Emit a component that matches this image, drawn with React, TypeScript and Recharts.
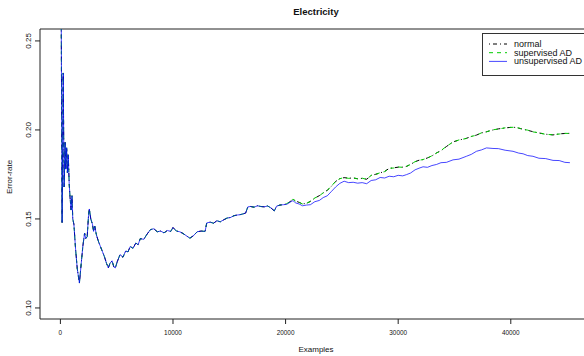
import React from 'react';
import { LineChart, Line, XAxis, YAxis, ReferenceArea, Legend } from 'recharts';

// examples seen so far, shared part where all three runs coincide
const earlyExamples = [
  30, 150, 250, 330, 420, 480, 560, 620, 700, 780,
  860, 950, 1030, 1100, 1200, 1350, 1500, 1690, 1850, 2000,
  2150, 2250, 2380, 2500, 2570, 2700, 2850, 2950, 3050, 3200,
  3400, 3650, 3900, 4100, 4260, 4400, 4590, 4750, 4880, 5050,
  5300, 5550, 5800, 6000, 6200, 6450, 6700, 6900, 7100, 7400,
  7700, 8000, 8300, 8600, 8900, 9200, 9500, 9800, 10000, 10300,
  10600, 10900, 11200, 11500, 11800, 12150, 12500, 12850, 13000, 13300,
  13600, 13900, 14200, 14500, 14800, 15100, 15400, 15700, 15950, 16200,
  16450, 16650, 16900, 17200, 17500, 17800, 18100, 18400, 18700, 19000,
  19200, 19500, 19800,
];
const earlyRate = [
  0.33, 0.148, 0.232, 0.168, 0.193, 0.178, 0.19, 0.176, 0.186, 0.17,
  0.162, 0.155, 0.163, 0.15, 0.147, 0.133, 0.122, 0.114, 0.125, 0.135,
  0.142, 0.139, 0.14, 0.152, 0.1556, 0.15, 0.147, 0.143, 0.146, 0.141,
  0.137, 0.133, 0.129, 0.125, 0.1225, 0.125, 0.1265, 0.123, 0.1225, 0.126,
  0.13, 0.1285, 0.132, 0.1315, 0.1345, 0.1335, 0.1365, 0.1355, 0.139, 0.1385,
  0.1415, 0.144, 0.1445, 0.1428, 0.1432, 0.1422, 0.1435, 0.143, 0.1452, 0.1432,
  0.1428, 0.1418, 0.1405, 0.1392, 0.1405, 0.1428, 0.1432, 0.143, 0.1478, 0.1482,
  0.1476, 0.149, 0.1484, 0.1495, 0.1505, 0.1508, 0.1518, 0.1522, 0.1524, 0.1528,
  0.1533, 0.1568, 0.157, 0.1566, 0.1574, 0.157, 0.1568, 0.1573, 0.1562, 0.1545,
  0.1572, 0.1578, 0.158,
];

// after ~20000 the runs drift apart
const lateExamples = [
  20100, 20400, 20650, 20900, 21200, 21500, 21850, 22200, 22600, 23000,
  23340, 23700, 24080, 24450, 24820, 25200, 25600, 26000, 26400, 26800,
  27200, 27600, 28000, 28400, 28800, 29200, 29600, 30000, 30400, 30740,
  31100, 31500, 31850, 32210, 32600, 33000, 33400, 33800, 34290, 34870,
  35400, 36060, 36500, 36950, 37400, 37840, 38420, 38900, 39500, 40200,
  40700, 41090, 41500, 41970, 42500, 43100, 43750, 44300, 44800, 45250,
];
const normalLate = [
  0.1585, 0.1597, 0.1612, 0.1601, 0.1593, 0.1585, 0.1587, 0.1599, 0.1617, 0.1631,
  0.1646, 0.1661, 0.1684, 0.1711, 0.1727, 0.1732, 0.1729, 0.173, 0.1726, 0.1728,
  0.1723, 0.1744, 0.1751, 0.1759, 0.1767, 0.1784, 0.1787, 0.1791, 0.1791, 0.1795,
  0.1807, 0.1821, 0.183, 0.1833, 0.1843, 0.1854, 0.1871, 0.1883, 0.1907, 0.1933,
  0.1943, 0.1953, 0.1963, 0.1971, 0.1983, 0.199, 0.2, 0.2006, 0.2011, 0.2016,
  0.201, 0.2004, 0.1998, 0.199, 0.1983, 0.1976, 0.1972, 0.1978, 0.198, 0.1981,
];
const supervisedLate = [
  0.1586, 0.1598, 0.1611, 0.16, 0.1594, 0.1584, 0.1588, 0.1598, 0.1618, 0.163,
  0.1647, 0.166, 0.1685, 0.1712, 0.1726, 0.1733, 0.1728, 0.1731, 0.1725, 0.1729,
  0.1722, 0.1745, 0.175, 0.176, 0.1766, 0.1785, 0.1786, 0.1792, 0.179, 0.1796,
  0.1806, 0.1822, 0.1829, 0.1834, 0.1842, 0.1855, 0.187, 0.1884, 0.1908, 0.1932,
  0.1944, 0.1952, 0.1964, 0.197, 0.1984, 0.1989, 0.2001, 0.2005, 0.2012, 0.2015,
  0.2011, 0.2003, 0.1999, 0.1989, 0.1984, 0.1975, 0.1973, 0.1977, 0.1981, 0.198,
];
const unsupervisedLate = [
  0.1582, 0.1594, 0.1603, 0.159, 0.1584, 0.1574, 0.1578, 0.158, 0.1597, 0.1604,
  0.162, 0.163, 0.1655, 0.168, 0.17, 0.1712, 0.1704, 0.1706, 0.1701, 0.1704,
  0.1698, 0.1716, 0.172, 0.1733, 0.173, 0.174, 0.1737, 0.1745, 0.1742, 0.1749,
  0.1758, 0.1776, 0.1785, 0.1793, 0.179, 0.18, 0.1806, 0.1816, 0.1818, 0.1832,
  0.1836, 0.1852, 0.1863, 0.188, 0.1888, 0.1899, 0.1896, 0.1895, 0.1886, 0.188,
  0.187, 0.1866, 0.1856, 0.1852, 0.1841, 0.1839, 0.1829, 0.1828, 0.1818, 0.1816,
];

const xTicks = [0, 10000, 20000, 30000, 40000];
const yTicks = [0.1, 0.15, 0.2, 0.25];
const xDomain: [number, number] = [-1811, 47124];
const yDomain: [number, number] = [0.0938, 0.2567];

const series = [
  { key: 'normal', name: 'normal', color: '#000000', dash: '1 3 4 3', opacity: 1 },
  { key: 'supervised', name: 'supervised AD', color: '#00cd00', dash: '4 4', opacity: 1 },
  { key: 'unsupervised', name: 'unsupervised AD', color: '#0000ff', dash: undefined, opacity: 0.72 },
];

const data = [
  ...earlyExamples.map((x, i) => ({
    x,
    normal: earlyRate[i],
    supervised: earlyRate[i],
    unsupervised: earlyRate[i],
  })),
  ...lateExamples.map((x, i) => ({
    x,
    normal: normalLate[i],
    supervised: supervisedLate[i],
    unsupervised: unsupervisedLate[i],
  })),
];

const FONT = '"Liberation Sans", Arial, Helvetica, sans-serif';

const XTick = (props: any) => {
  const { x, y, payload } = props;
  return (
    <g transform={`translate(${x},${y})`}>
      <text transform="scale(0.8,1)" textAnchor="middle" dy="0.71em" fontSize={8} fill="#111" fontFamily={FONT}>
        {payload.value}
      </text>
    </g>
  );
};

const YTick = (props: any) => {
  const { x, y, payload } = props;
  return (
    <text
      x={x}
      y={y}
      transform={`rotate(-90, ${x}, ${y})`}
      textAnchor="middle"
      fontSize={8}
      fill="#111"
      fontFamily={FONT}
    >
      {payload.value.toFixed(2)}
    </text>
  );
};

const LegendBox = () => (
  <svg width={102} height={44} style={{ display: 'block', overflow: 'visible' }}>
    <rect x={0.5} y={0.5} width={110} height={42} fill="#fff" stroke="#333" />
    {series.map((s, i) => {
      const cy = 11 + i * 8.7;
      return (
        <g key={s.key}>
          <line x1={7} x2={25} y1={cy} y2={cy} stroke={s.color} strokeOpacity={s.opacity} strokeDasharray={s.dash} strokeWidth={1} />
          <text x={32} y={cy + 3} fontSize={9} fill="#111" fontFamily={FONT}>
            {s.name}
          </text>
        </g>
      );
    })}
  </svg>
);

export default function App() {
  return (
    <div style={{ position: 'absolute', left: 0, top: 0, width: 584, height: 356, overflow: 'hidden', background: '#fff' }}>
      <LineChart width={584} height={356} data={data} margin={{ top: 29, right: -7, bottom: 0, left: 0 }}>
        <XAxis
          dataKey="x"
          type="number"
          domain={xDomain}
          allowDataOverflow
          ticks={xTicks}
          tick={<XTick />}
          tickSize={5}
          tickMargin={5}
          tickLine={{ stroke: '#222' }}
          axisLine={false}
          height={37}
        />
        <YAxis
          type="number"
          domain={yDomain}
          allowDataOverflow
          ticks={yTicks}
          tick={<YTick />}
          tickSize={5}
          tickMargin={4}
          tickLine={{ stroke: '#222' }}
          axisLine={false}
          width={40}
        />
        {series.map((s) => (
          <Line
            key={s.key}
            dataKey={s.key}
            name={s.name}
            type="linear"
            stroke={s.color}
            strokeOpacity={s.opacity}
            strokeWidth={1}
            strokeDasharray={s.dash}
            dot={false}
            activeDot={false}
            isAnimationActive={false}
          />
        ))}
        <ReferenceArea
          x1={xDomain[0]}
          x2={xDomain[1]}
          y1={yDomain[0]}
          y2={yDomain[1]}
          fill="none"
          fillOpacity={0}
          stroke="#222"
          strokeWidth={1}
        />
        <Legend
          layout="vertical"
          align="center"
          verticalAlign="middle"
          content={() => <LegendBox />}
          wrapperStyle={{ position: 'absolute', top: 33, left: 482, width: 102, height: 44 }}
        />
      </LineChart>
      <svg width={584} height={356} style={{ position: 'absolute', left: 0, top: 0, pointerEvents: 'none' }}>
        <text x={316} y={15} textAnchor="middle" fontSize={9.5} fontWeight="bold" fill="#111" fontFamily={FONT}>
          Electricity
        </text>
        <text x={316} y={352} textAnchor="middle" fontSize={8} fill="#111" fontFamily={FONT}>
          Examples
        </text>
        <text x={12} y={177} transform="rotate(-90, 12, 177)" textAnchor="middle" fontSize={8} fill="#111" fontFamily={FONT}>
          Error-rate
        </text>
      </svg>
    </div>
  );
}
